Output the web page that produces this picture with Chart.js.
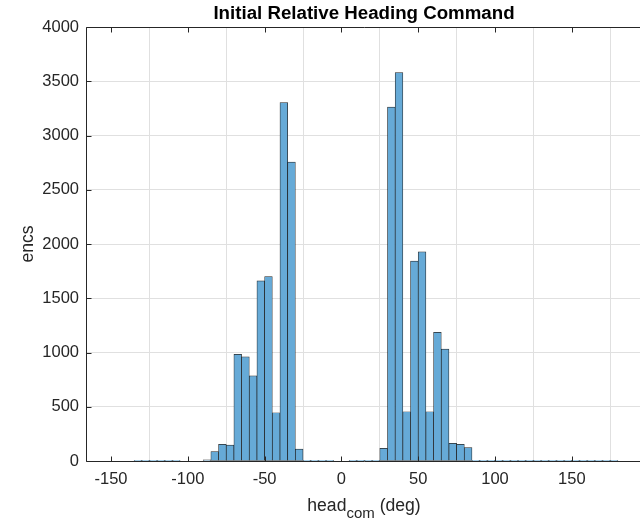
<!DOCTYPE html>
<html><head><meta charset="utf-8">
<script src="https://cdn.jsdelivr.net/npm/chart.js@4.4.1/dist/chart.umd.min.js"></script>
<style>
html,body{margin:0;padding:0;overflow:hidden;background:#fff;width:640px;height:523px}
#wrap{position:absolute;left:0;top:0;width:660px;height:523px}
</style>
</head><body><div id="wrap"><canvas id="c" width="660" height="523"></canvas></div>
<script>
// ---- data ----
const binLeftEdges = [-140,-135,-130,-125,-120,-115,-110,-105,-100,-95,-90,-85,-80,-75,-70,-65,-60,-55,-50,-45,-40,-35,-30,-25,-20,-15,-10,-5,0,5,10,15,20,25,30,35,40,45,50,55,60,65,70,75,80,85,90,95,100,105,110,115,120,125,130,135,140,145,150,155,160,165,170,175];
const counts = [0,2,1,2,1,2,1,0,0,0,10,86,153,147,982,960,785,1660,1699,445,3304,2755,110,3,1,3,2,0,0,1,3,3,2,117,3261,3580,454,1842,1928,454,1185,1032,163,154,123,3,2,2,1,2,1,2,1,2,1,2,1,2,1,2,1,2,1,1];
const binWidth = 5;
const xTickValues = [-150,-100,-50,0,50,100,150];
const yTickValues = [0,500,1000,1500,2000,2500,3000,3500,4000];
const titleText = 'Initial Relative Heading Command';
const xLabelMain = 'head', xLabelSub = 'com', xLabelUnit = ' (deg)';
const yLabelText = 'encs';

const FONT = '"Liberation Sans", Arial, Helvetica, sans-serif';
const AXC = '#262626';

const histData = binLeftEdges.map((e, i) => ({x: e + binWidth / 2, y: counts[i]}));

const decor = {
  id: 'decor',
  afterDraw(chart) {
    const ctx = chart.ctx, a = chart.chartArea;
    const xs = chart.scales.x, ys = chart.scales.y;
    ctx.save();
    ctx.strokeStyle = AXC; ctx.lineWidth = 1;
    const L = Math.round(a.left) + 0.5, R = Math.round(a.right) + 0.5, T = Math.round(a.top) + 0.5, B = Math.round(a.bottom) + 0.5;
    ctx.beginPath();
    ctx.moveTo(L, B); ctx.lineTo(L, T); ctx.lineTo(R, T); ctx.lineTo(R, B); ctx.closePath();
    ctx.stroke();
    ctx.beginPath();
    xTickValues.forEach(v => {
      const px = Math.round(xs.getPixelForValue(v)) + 0.5;
      ctx.moveTo(px, B); ctx.lineTo(px, B - 5);
      ctx.moveTo(px, T); ctx.lineTo(px, T + 5);
    });
    yTickValues.forEach(v => {
      const py = Math.round(ys.getPixelForValue(v)) + 0.5;
      ctx.moveTo(L, py); ctx.lineTo(L + 5, py);
    });
    ctx.stroke();
    // title
    ctx.fillStyle = '#000';
    ctx.font = 'bold 18.7px ' + FONT;
    ctx.textAlign = 'center'; ctx.textBaseline = 'alphabetic';
    ctx.fillText(titleText, (a.left + a.right) / 2, 18.5);
    // x label with subscript
    ctx.fillStyle = AXC;
    const fMain = '17.6px ' + FONT, fSub = '15px ' + FONT;
    ctx.font = fMain; const w1 = ctx.measureText(xLabelMain).width;
    const w3 = ctx.measureText(xLabelUnit).width;
    ctx.font = fSub; const w2 = ctx.measureText(xLabelSub).width;
    let x0 = (a.left + a.right) / 2 - (w1 + w2 + w3) / 2;
    ctx.textAlign = 'left';
    ctx.font = fMain; ctx.fillText(xLabelMain, x0, 511);
    ctx.font = fSub; ctx.fillText(xLabelSub, x0 + w1, 517.5);
    ctx.font = fMain; ctx.fillText(xLabelUnit, x0 + w1 + w2, 511);
    // y label
    ctx.translate(33, (a.top + a.bottom) / 2);
    ctx.rotate(-Math.PI / 2);
    ctx.textAlign = 'center';
    ctx.font = fMain;
    ctx.fillText(yLabelText, 0, 0);
    ctx.restore();
  }
};

new Chart(document.getElementById('c'), {
  type: 'bar',
  data: {
    datasets: [{
      data: histData,
      backgroundColor: 'rgb(102,170,215)',
      borderColor: 'rgba(15,15,15,0.9)',
      borderWidth: 0.7,
      borderSkipped: false,
      barPercentage: 1,
      categoryPercentage: 1,
      grouped: false
    }]
  },
  plugins: [decor],
  options: {
    responsive: false,
    animation: false,
    devicePixelRatio: 1,
    layout: {padding: {top: 27, right: 18, left: 0, bottom: 0}},
    plugins: {legend: {display: false}, title: {display: false}, tooltip: {enabled: false}},
    scales: {
      x: {
        type: 'linear', min: -166.3, max: 195.7, offset: false,
        afterBuildTicks: s => { s.ticks = xTickValues.map(v => ({value: v})); },
        afterFit: s => { s.height = 62; },
        grid: {color: '#e0e0e0', lineWidth: 1, drawTicks: false},
        border: {display: false},
        ticks: {font: {family: FONT, size: 16.5}, color: AXC, padding: 9, maxRotation: 0, autoSkip: false,
                callback: v => String(v)}
      },
      y: {
        type: 'linear', min: 0, max: 4000,
        afterBuildTicks: s => { s.ticks = yTickValues.map(v => ({value: v})); },
        afterFit: s => { s.width = 86; },
        grid: {color: '#e0e0e0', lineWidth: 1, drawTicks: false},
        border: {display: false},
        ticks: {font: {family: FONT, size: 16.5}, color: AXC, padding: 7,
                callback: v => String(v)}
      }
    }
  }
});
</script>
</body></html>
